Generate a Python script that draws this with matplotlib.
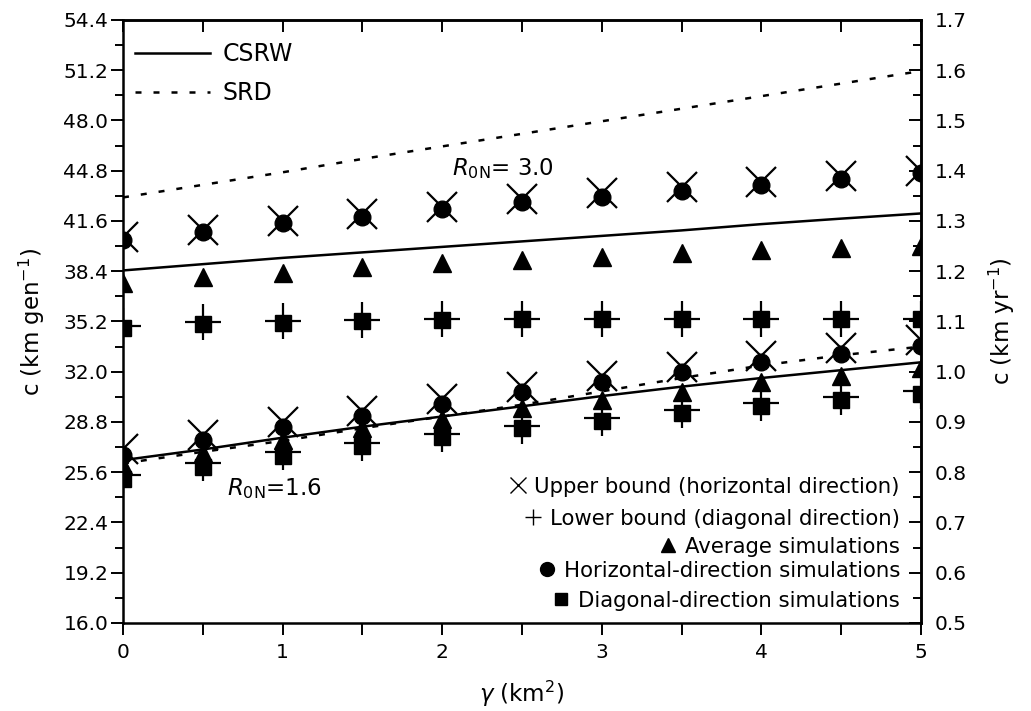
import matplotlib
matplotlib.use("Agg")
import matplotlib.pyplot as plt
from matplotlib.ticker import MultipleLocator, FormatStrFormatter

gamma = [0, 0.5, 1, 1.5, 2, 2.5, 3, 3.5, 4, 4.5, 5]

# R0N = 3.0
csrw_hi = [38.45, 38.85, 39.25, 39.6, 39.95, 40.3, 40.65, 41.0, 41.4, 41.75, 42.08]
srd_hi = [43.1, 43.9, 44.7, 45.55, 46.35, 47.15, 47.95, 48.75, 49.55, 50.35, 51.15]
upper_hi = [40.55, 41.05, 41.6, 42.05, 42.5, 43.0, 43.35, 43.75, 44.1, 44.45, 44.8]
lower_hi = [34.9, 35.15, 35.2, 35.3, 35.35, 35.38, 35.38, 35.38, 35.38, 35.38, 35.38]
avg_hi = [37.62, 38.05, 38.3, 38.68, 38.9, 39.11, 39.32, 39.53, 39.73, 39.9, 40.03]
horiz_hi = [40.36, 40.88, 41.44, 41.87, 42.34, 42.82, 43.14, 43.53, 43.92, 44.25, 44.63]
diag_hi = [34.8, 35.07, 35.11, 35.24, 35.29, 35.33, 35.33, 35.33, 35.33, 35.33, 35.33]

# R0N = 1.6
csrw_lo = [26.37, 27.05, 27.8, 28.5, 29.15, 29.8, 30.45, 31.05, 31.6, 32.1, 32.6]
srd_lo = [26.16, 26.9, 27.6, 28.4, 29.15, 29.9, 30.75, 31.6, 32.4, 33.05, 33.6]
upper_lo = [27.05, 27.96, 28.8, 29.5, 30.25, 31.05, 31.7, 32.3, 33.0, 33.48, 34.0]
lower_lo = [25.45, 26.2, 26.9, 27.45, 28.05, 28.57, 29.05, 29.55, 29.98, 30.36, 30.78]
avg_lo = [26.05, 26.85, 27.64, 28.39, 29.02, 29.66, 30.19, 30.72, 31.35, 31.72, 32.21]
horiz_lo = [26.72, 27.64, 28.47, 29.17, 29.93, 30.72, 31.36, 31.99, 32.6, 33.15, 33.67]
diag_lo = [25.2, 25.92, 26.65, 27.26, 27.85, 28.39, 28.87, 29.34, 29.81, 30.23, 30.61]

gen_per_yr = 32.0  # km gen^-1 -> km yr^-1

plt.rcParams['font.family'] = 'DejaVu Sans'
plt.rcParams['mathtext.fontset'] = 'dejavusans'

fig = plt.figure(figsize=(10.31, 7.11), dpi=100)
ax = fig.add_axes([0.1193, 0.1238, 0.7740, 0.8481])

dots = (0, (2.4, 4.8))
ax.plot(gamma, csrw_hi, color='k', lw=1.8, label='CSRW')
ax.plot(gamma, srd_hi, color='k', lw=1.8, ls=dots, label='SRD')
ax.plot(gamma, csrw_lo, color='k', lw=1.8)
ax.plot(gamma, srd_lo, color='k', lw=1.8, ls=dots)

for up, lo, av, ho, di in [(upper_hi, lower_hi, avg_hi, horiz_hi, diag_hi),
                           (upper_lo, lower_lo, avg_lo, horiz_lo, diag_lo)]:
    ax.plot(gamma, lo, ls='none', marker='+', ms=26, mew=1.6, color='k')
    ax.plot(gamma, di, ls='none', marker='s', ms=11, color='k')
    ax.plot(gamma, av, ls='none', marker='^', ms=13, color='k')
    ax.plot(gamma, ho, ls='none', marker='o', ms=12, color='k')
    ax.plot(gamma, up, ls='none', marker='x', ms=21, mew=1.6, color='k')

ax.set_xlim(0, 5)
ax.set_ylim(16.0, 54.4)
ax.xaxis.set_major_locator(MultipleLocator(1))
ax.xaxis.set_minor_locator(MultipleLocator(0.5))
ax.yaxis.set_major_locator(MultipleLocator(3.2))
ax.yaxis.set_minor_locator(MultipleLocator(1.6))
ax.yaxis.set_major_formatter(FormatStrFormatter('%.1f'))
ax.tick_params(axis='x', which='both', direction='out', length=8.6, width=1.4,
               labelsize=14.5, pad=6)
ax.tick_params(axis='y', which='major', direction='out', length=8.6, width=1.4,
               labelsize=14.5, pad=2)
ax.tick_params(axis='y', which='minor', direction='out', length=5.5, width=1.4)
for s in ax.spines.values():
    s.set_linewidth(1.8)

ax.set_xlabel(r'$\gamma$ (km$^2$)', fontsize=16.5, labelpad=12)
ax.set_ylabel(r'c (km gen$^{-1}$)', fontsize=16.5, labelpad=12)

# top ticks (inward)
top = ax.secondary_xaxis('top')
top.xaxis.set_major_locator(MultipleLocator(0.5))
top.tick_params(direction='in', length=8.6, width=1.4, labeltop=False)
top.spines['top'].set_linewidth(1.8)

# right axis in km/yr
right = ax.secondary_yaxis('right', functions=(lambda y: y / gen_per_yr,
                                               lambda y: y * gen_per_yr))
right.yaxis.set_major_locator(MultipleLocator(0.1))
right.yaxis.set_minor_locator(MultipleLocator(0.05))
right.yaxis.set_major_formatter(FormatStrFormatter('%.1f'))
right.tick_params(which='major', direction='in', length=8.6, width=1.4,
                  labelsize=14.5, pad=10)
right.tick_params(which='minor', direction='in', length=5.5, width=1.4)
right.spines['right'].set_linewidth(1.8)
right.set_ylabel(r'c (km yr$^{-1}$)', fontsize=16.5, labelpad=14)

ax.legend(loc='upper left', bbox_to_anchor=(0.0, 0.983), frameon=False,
          fontsize=17, handlelength=3.2, handletextpad=0.5, labelspacing=0.65,
          borderpad=0.5, borderaxespad=0)

ax.text(2.06, 44.52, r'$R_{\mathit{0}\mathrm{N}}$= 3.0', fontsize=16.5, va='baseline')
ax.text(0.65, 24.14, r'$R_{\mathit{0}\mathrm{N}}$=1.6', fontsize=16.5, va='baseline')

# marker key, right-aligned text with symbol before it
keys = [
    ('Upper bound (horizontal direction)', 'x', 11, 1.0, 493),
    ('Lower bound (diagonal direction)', '+', 12, 1.0, 525),
    ('Average simulations', '^', 10, 1.0, 552.7),
    ('Horizontal-direction simulations', 'o', 10, 1.0, 576.7),
    ('Diagonal-direction simulations', 's', 8.5, 1.0, 607.3),
]
H = 711
texts = []
for label, m, ms, mew, base_py in keys:
    t = ax.text(900, H - base_py, label, fontsize=15.3, ha='right', va='baseline',
                transform=None)
    texts.append(t)
fig.canvas.draw()
r = fig.canvas.get_renderer()
for t, (label, m, ms, mew, base_py) in zip(texts, keys):
    bb = t.get_window_extent(r)
    px, py = bb.x0 - 17, H - base_py + 8
    xa, ya = ax.transAxes.inverted().transform((px, py))
    ax.plot([xa], [ya], ls='none', marker=m, ms=ms, mew=mew, color='k',
            transform=ax.transAxes, clip_on=False)

fig.savefig('out.png', dpi=100)
